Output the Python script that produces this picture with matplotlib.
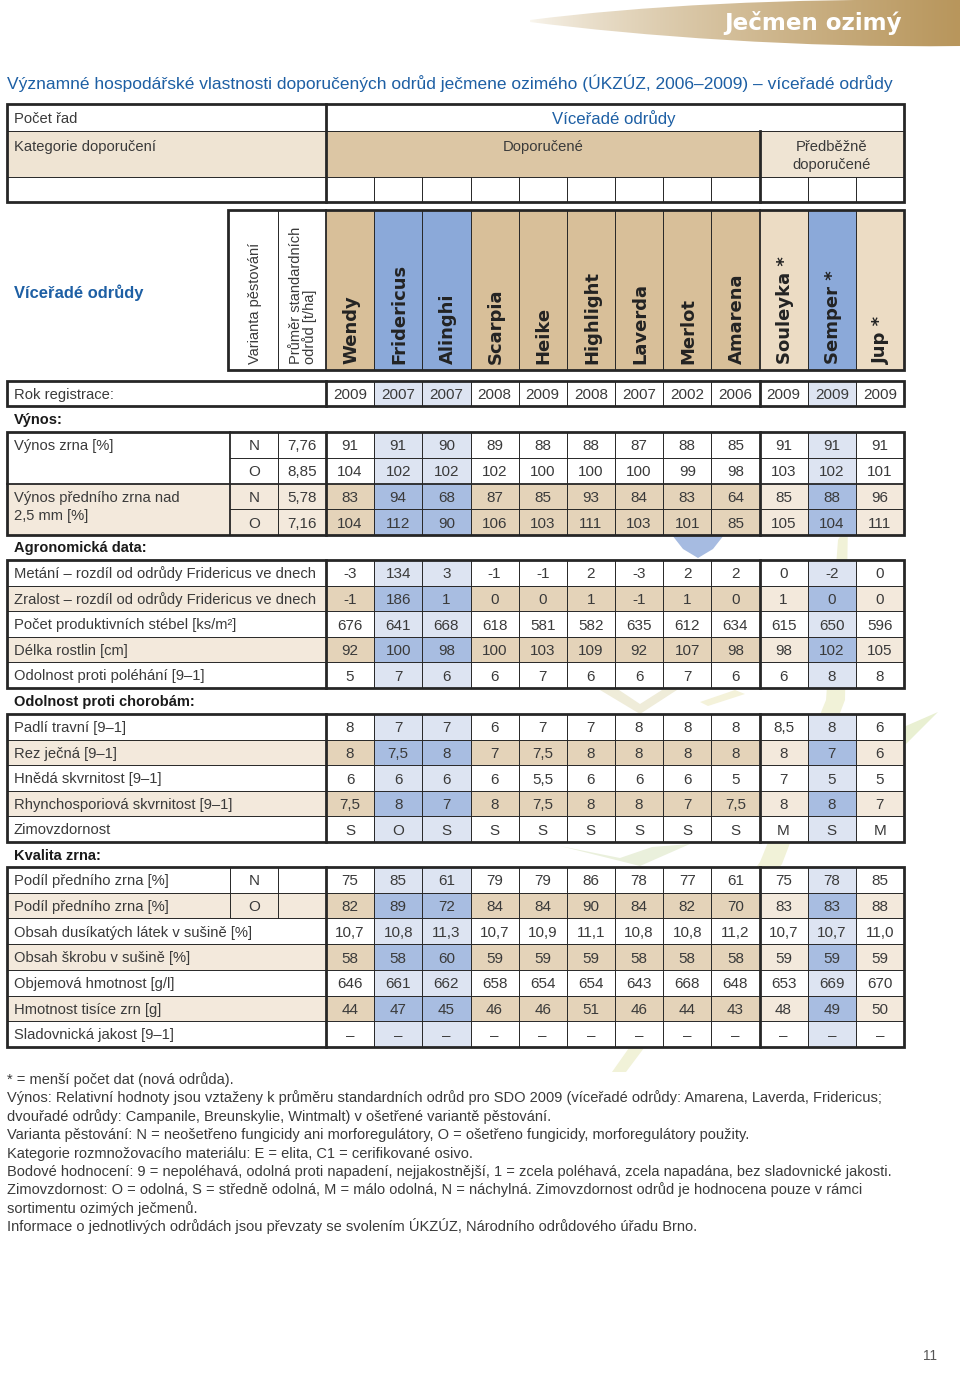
import numpy as np
import matplotlib
matplotlib.use("Agg")
import matplotlib.pyplot as plt
from matplotlib.patches import Rectangle, Polygon, PathPatch
from matplotlib.path import Path

plt.rcParams['font.family'] = ['Liberation Sans', 'DejaVu Sans']

# ------------------------------------------------------------------ data
varieties = ['Wendy', 'Fridericus', 'Alinghi', 'Scarpia', 'Heike', 'Highlight',
             'Laverda', 'Merlot', 'Amarena', 'Souleyka *', 'Semper *', 'Jup *']
col_type = ['T', 'B', 'B', 'T', 'T', 'T', 'T', 'T', 'T', 'L', 'B', 'L']
reg_years = [2009, 2007, 2007, 2008, 2009, 2008, 2007, 2002, 2006, 2009, 2009, 2009]

vynos_labels = ['Výnos zrna [%]', 'Výnos předního zrna nad\n2,5 mm [%]']
vynos_variant = ['N', 'O', 'N', 'O']
vynos_avg = ['7,76', '8,85', '5,78', '7,16']
vynos_zrna_N = [91, 91, 90, 89, 88, 88, 87, 88, 85, 91, 91, 91]
vynos_zrna_O = [104, 102, 102, 102, 100, 100, 100, 99, 98, 103, 102, 101]
vynos_predni_N = [83, 94, 68, 87, 85, 93, 84, 83, 64, 85, 88, 96]
vynos_predni_O = [104, 112, 90, 106, 103, 111, 103, 101, 85, 105, 104, 111]

agro_labels = ['Metání – rozdíl od odrůdy Fridericus ve dnech',
               'Zralost – rozdíl od odrůdy Fridericus ve dnech',
               'Počet produktivních stébel [ks/m²]',
               'Délka rostlin [cm]',
               'Odolnost proti poléhání [9–1]']
metani = [-3, 134, 3, -1, -1, 2, -3, 2, 2, 0, -2, 0]
zralost = [-1, 186, 1, 0, 0, 1, -1, 1, 0, 1, 0, 0]
stebel = [676, 641, 668, 618, 581, 582, 635, 612, 634, 615, 650, 596]
delka = [92, 100, 98, 100, 103, 109, 92, 107, 98, 98, 102, 105]
polehani = [5, 7, 6, 6, 7, 6, 6, 7, 6, 6, 8, 8]

disease_labels = ['Padlí travní [9–1]', 'Rez ječná [9–1]', 'Hnědá skvrnitost [9–1]',
                  'Rhynchosporiová skvrnitost [9–1]', 'Zimovzdornost']
padli = ['8', '7', '7', '6', '7', '7', '8', '8', '8', '8,5', '8', '6']
rez = ['8', '7,5', '8', '7', '7,5', '8', '8', '8', '8', '8', '7', '6']
hneda = ['6', '6', '6', '6', '5,5', '6', '6', '6', '5', '7', '5', '5']
rhyncho = ['7,5', '8', '7', '8', '7,5', '8', '8', '7', '7,5', '8', '8', '7']
zimo = ['S', 'O', 'S', 'S', 'S', 'S', 'S', 'S', 'S', 'M', 'S', 'M']

quality_labels = ['Podíl předního zrna [%]', 'Podíl předního zrna [%]',
                  'Obsah dusíkatých látek v sušině [%]', 'Obsah škrobu v sušině [%]',
                  'Objemová hmotnost [g/l]', 'Hmotnost tisíce zrn [g]',
                  'Sladovnická jakost [9–1]']
quality_variant = ['N', 'O']
podil_N = [75, 85, 61, 79, 79, 86, 78, 77, 61, 75, 78, 85]
podil_O = [82, 89, 72, 84, 84, 90, 84, 82, 70, 83, 83, 88]
dusik = ['10,7', '10,8', '11,3', '10,7', '10,9', '11,1', '10,8', '10,8', '11,2', '10,7', '10,7', '11,0']
skrob = [58, 58, 60, 59, 59, 59, 58, 58, 58, 59, 59, 59]
objem = [646, 661, 662, 658, 654, 654, 643, 668, 648, 653, 669, 670]
hts = [44, 47, 45, 46, 46, 51, 46, 44, 43, 48, 49, 50]
slad = ['–'] * 12

footnotes = [
    '* = menší počet dat (nová odrůda).',
    'Výnos: Relativní hodnoty jsou vztaženy k průměru standardních odrůd pro SDO 2009 (víceřadé odrůdy: Amarena, Laverda, Fridericus;',
    'dvouřadé odrůdy: Campanile, Breunskylie, Wintmalt) v ošetřené variantě pěstování.',
    'Varianta pěstování: N = neošetřeno fungicidy ani morforegulátory, O = ošetřeno fungicidy, morforegulátory použity.',
    'Kategorie rozmnožovacího materiálu: E = elita, C1 = cerifikované osivo.',
    'Bodové hodnocení: 9 = nepoléhavá, odolná proti napadení, nejjakostnější, 1 = zcela poléhavá, zcela napadána, bez sladovnické jakosti.',
    'Zimovzdornost: O = odolná, S = středně odolná, M = málo odolná, N = náchylná. Zimovzdornost odrůd je hodnocena pouze v rámci',
    'sortimentu ozimých ječmenů.',
    'Informace o jednotlivých odrůdách jsou převzaty se svolením ÚKZÚZ, Národního odrůdového úřadu Brno.',
]

# ------------------------------------------------------------------ style
W, H = 960, 1386
fig = plt.figure(figsize=(9.6, 13.86), dpi=100)
ax = fig.add_axes([0, 0, 1, 1])
ax.set_xlim(0, W)
ax.set_ylim(H, 0)
ax.axis('off')

PX = 0.72
LINE = '#262626'
THICK, MED, THIN = 2.0, 1.3, 0.7
TXT = '#3a3a3a'
BLUE_T = '#1d5fa4'
HEAD = {'T': '#d8bf99', 'B': '#8ba9d9', 'L': '#ecdcc4'}
WHITE = {'T': '#ffffff', 'B': '#dde4f2', 'L': '#ffffff'}
SHADE = {'T': '#e4d3b9', 'B': '#a8bde1', 'L': '#f3e9dc'}
LSHADE = '#f3e9dc'

XL, XV, XN, XA, XR = 7, 326, 230, 278, 904
XE = np.linspace(XV, XR, 13)
XC = (XE[:-1] + XE[1:]) / 2
XSPLIT = XE[9]

LBL = 14.7
VAL = 15.3


def rect(x0, y0, x1, y1, fc, z=1):
    ax.add_patch(Rectangle((x0, y0), x1 - x0, y1 - y0, fc=fc, ec='none', zorder=z))


def hl(x0, x1, y, lw):
    ax.plot([x0, x1], [y, y], color=LINE, lw=lw, zorder=5, solid_capstyle='projecting')


def vl(x, y0, y1, lw):
    ax.plot([x, x], [y0, y1], color=LINE, lw=lw, zorder=5, solid_capstyle='projecting')


def box(x0, y0, x1, y1, lw=THICK):
    ax.add_patch(Rectangle((x0, y0), x1 - x0, y1 - y0, fc='none', ec=LINE, lw=lw,
                           zorder=6, joinstyle='miter'))


def txt(x, y, s, size=LBL, color=TXT, **kw):
    ax.text(x, y, s, fontsize=size * PX, color=color, zorder=7, **kw)


def ctext(x, yc, s, size=VAL, **kw):
    txt(x, yc + 0.36 * size, s, size=size, ha='center', va='baseline', **kw)


def ltext(x, yc, s, size=LBL, **kw):
    txt(x, yc + 0.36 * size, s, size=size, ha='left', va='baseline', **kw)


def value_cells(y0, y1, vals, shaded):
    for j in range(12):
        fc = (SHADE if shaded else WHITE)[col_type[j]]
        rect(XE[j], y0, XE[j + 1], y1, fc)
        ctext(XC[j], (y0 + y1) / 2, str(vals[j]))


def value_verticals(y0, y1):
    for k in range(1, 12):
        vl(XE[k], y0, y1, THICK if k == 9 else THIN)
    vl(XV, y0, y1, THICK)


# ------------------------------------------------------------------ faint background leaves
def leaf(pts, color, alpha=1.0):
    ax.add_patch(Polygon(pts, closed=True, fc=color, ec='none', alpha=alpha, zorder=0))

leaf([(612, 1072), (760, 862), (826, 700), (838, 540), (848, 522), (845, 700),
      (782, 864), (626, 1072)], '#f1f2d8')
leaf([(720, 822), (860, 746), (938, 712), (880, 770), (760, 836)], '#e9f0d2')
leaf([(600, 690), (640, 714), (680, 688), (662, 690), (640, 704), (616, 688)], '#efecd9')
leaf([(560, 846), (640, 866), (690, 844), (652, 847), (620, 858)], '#eaf0dc')
leaf([(700, 702), (735, 690), (745, 694), (708, 706)], '#f4f2da')
leaf([(672, 535), (724, 535), (713, 549), (698, 558), (683, 549)], '#a6bbe1')

# ------------------------------------------------------------------ banner
bx0, bx1 = 530, 960
banner = Path([(bx0, 20), (640, 6), (780, -2), (960, 0), (960, 46),
               (800, 48), (640, 36), (bx0, 22), (bx0, 20)],
              [Path.MOVETO, Path.CURVE4, Path.CURVE4, Path.CURVE4, Path.LINETO,
               Path.CURVE4, Path.CURVE4, Path.CURVE4, Path.CLOSEPOLY])
grad = np.linspace(0, 1, 256)[None, :]
c0 = np.array([250, 247, 240]) / 255
c1 = np.array([184, 150, 92]) / 255
g = grad[..., None] ** 0.7
img = c0[None, None, :] * (1 - g) + c1[None, None, :] * g
im = ax.imshow(img, extent=[bx0, bx1, 48, -2], aspect='auto', zorder=1, interpolation='bilinear')
pp = PathPatch(banner, fc='none', ec='none', transform=ax.transData)
ax.add_patch(pp)
im.set_clip_path(pp)
ax.text(902, 23, 'Ječmen ozimý', fontsize=23 * PX, color='white', fontweight='bold',
        family=['DejaVu Sans'], ha='right', va='center', zorder=8)

# ------------------------------------------------------------------ title
txt(7, 89, 'Významné hospodářské vlastnosti doporučených odrůd ječmene ozimého (ÚKZÚZ, 2006–2009) – víceřadé odrůdy',
    size=17.4, color=BLUE_T, ha='left', va='baseline')

# ------------------------------------------------------------------ top table
rect(XL, 104, XR, 131, 'white')
rect(XL, 131, XV, 177, '#efe4d3')
rect(XV, 131, XSPLIT, 177, '#dcc6a4')
rect(XSPLIT, 131, XR, 177, '#efe4d3')
rect(XL, 177, XR, 202, 'white')
ltext(14, 118, 'Počet řad')
txt(614, 124, 'Víceřadé odrůdy', size=16.8, color=BLUE_T, ha='center', va='baseline')
ltext(14, 146, 'Kategorie doporučení')
ctext((XV + XSPLIT) / 2, 146, 'Doporučené', size=LBL)
ctext((XSPLIT + XR) / 2, 146, 'Předběžně', size=LBL)
ctext((XSPLIT + XR) / 2, 164, 'doporučené', size=LBL)
hl(XL, XR, 131, THIN)
hl(XL, XR, 177, THIN)
vl(XV, 104, 202, THICK)
vl(XSPLIT, 131, 202, THICK)
for k in range(1, 12):
    if k != 9:
        vl(XE[k], 177, 202, THIN)
box(XL, 104, XR, 202)

# ------------------------------------------------------------------ header with variety names
HY0, HY1 = 210, 370
rect(228, HY0, XV, HY1, 'white')
for j in range(12):
    rect(XE[j], HY0, XE[j + 1], HY1, HEAD[col_type[j]])
    ax.text(XC[j] + 1, 364, varieties[j], rotation=90, rotation_mode='anchor', ha='left',
            va='center', fontsize=18 * PX, fontweight='bold', family=['DejaVu Sans'],
            color='#232323', zorder=7)
ax.text(255, 364, 'Varianta pěstování', rotation=90, rotation_mode='anchor', ha='left',
        va='center', fontsize=14.6 * PX, color=TXT, zorder=7)
ax.text(303, 364, 'Průměr standardních\nodrůd [t/ha]', rotation=90, rotation_mode='anchor',
        ha='left', va='center', fontsize=14.6 * PX, color=TXT, zorder=7, linespacing=1.0)
vl(278, HY0, HY1, THIN)
for k in range(1, 12):
    vl(XE[k], HY0, HY1, MED if k == 9 else THIN)
vl(XV, HY0, HY1, MED)
box(228, HY0, XR, HY1)

ltext(14, 292, 'Víceřadé odrůdy', size=16.5, color=BLUE_T, fontweight='bold')

# ------------------------------------------------------------------ registration year row
rect(XL, 381, XV, 406, 'white')
value_cells(381, 406, reg_years, False)
ltext(14, 393.5, 'Rok registrace:')
value_verticals(381, 406)
box(XL, 381, XR, 406)


def section(y, s):
    ltext(14, y, s, size=14.6, color='#1a1a1a', fontweight='bold')

# ------------------------------------------------------------------ Výnos block
section(419, 'Výnos:')
Y0, Y1 = 432, 535
rh = (Y1 - Y0) / 4
vyn_vals = [vynos_zrna_N, vynos_zrna_O, vynos_predni_N, vynos_predni_O]
for i in range(4):
    ya, yb = Y0 + i * rh, Y0 + (i + 1) * rh
    sh = i >= 2
    rect(XN, ya, XV, yb, LSHADE if sh else 'white')
    value_cells(ya, yb, vyn_vals[i], sh)
    ctext((XN + XA) / 2, (ya + yb) / 2, vynos_variant[i])
    ctext((XA + XV) / 2, (ya + yb) / 2, vynos_avg[i])
rect(XL, Y0, XN, Y0 + 2 * rh, 'white')
rect(XL, Y0 + 2 * rh, XN, Y1, LSHADE)
ltext(14, Y0 + rh / 2, vynos_labels[0])
lab2 = vynos_labels[1].split('\n')
ltext(14, Y0 + 2.5 * rh, lab2[0])
ltext(14, Y0 + 3.5 * rh - 7, lab2[1])
hl(XN, XR, Y0 + rh, THIN)
hl(XL, XR, Y0 + 2 * rh, MED)
hl(XN, XR, Y0 + 3 * rh, THIN)
vl(XN, Y0, Y1, MED)
vl(XA, Y0, Y1, THIN)
value_verticals(Y0, Y1)
box(XL, Y0, XR, Y1)


def simple_block(y0, y1, labels, rows, shaded, split_rows=None, variants=None):
    n = len(labels)
    h = (y1 - y0) / n
    for i in range(n):
        ya, yb = y0 + i * h, y0 + (i + 1) * h
        sh = shaded[i]
        rect(XL, ya, XV, yb, LSHADE if sh else 'white')
        value_cells(ya, yb, rows[i], sh)
        ltext(14, (ya + yb) / 2, labels[i])
        if split_rows and i in split_rows:
            ctext((XN + XA) / 2, (ya + yb) / 2, variants[split_rows.index(i)])
            vl(XN, ya, yb, THIN)
            vl(XA, ya, yb, THIN)
        if i > 0:
            hl(XL, XR, ya, THIN)
    value_verticals(y0, y1)
    box(XL, y0, XR, y1)

# ------------------------------------------------------------------ Agronomická data
section(547, 'Agronomická data:')
simple_block(560, 688, agro_labels, [metani, zralost, stebel, delka, polehani],
             [False, True, False, True, False])

# ------------------------------------------------------------------ Odolnost proti chorobám
section(701, 'Odolnost proti chorobám:')
simple_block(714, 842, disease_labels, [padli, rez, hneda, rhyncho, zimo],
             [False, True, False, True, False])

# ------------------------------------------------------------------ Kvalita zrna
section(855, 'Kvalita zrna:')
simple_block(867, 1047, quality_labels, [podil_N, podil_O, dusik, skrob, objem, hts, slad],
             [False, True, False, True, False, True, False], split_rows=[0, 1],
             variants=quality_variant)

# ------------------------------------------------------------------ footnotes
for i, line in enumerate(footnotes):
    txt(7, 1084 + i * 18.4, line, size=14.65, ha='left', va='baseline')

txt(930, 1360, '11', size=13.5, color='#555555', ha='center', va='baseline')

fig.savefig('out.png', dpi=100)
